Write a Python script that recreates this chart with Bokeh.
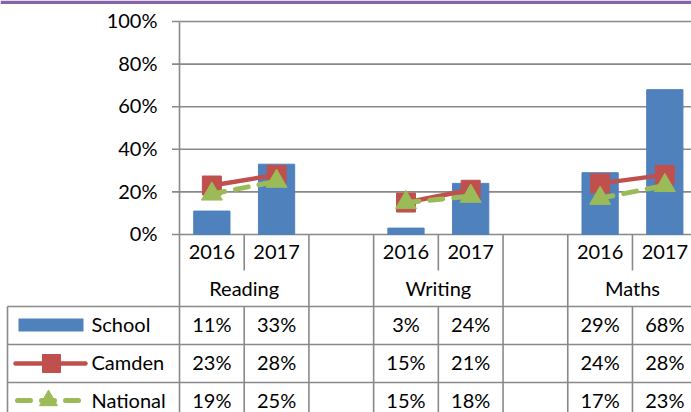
from bokeh.plotting import figure
from bokeh.models import Range1d
from bokeh.core.properties import value
from bokeh.embed import file_html
from bokeh.resources import INLINE
import math

# ---- data ----
subjects = ["Reading", "Writing", "Maths"]
years = ["2016", "2017"]
series_names = ["School", "Camden", "National"]
school = [11, 33, 3, 24, 29, 68]
camden = [23, 28, 15, 21, 24, 28]
national = [19, 25, 15, 18, 17, 23]
y_ticks = [0, 20, 40, 60, 80, 100]
y_tick_labels = ["0%", "20%", "40%", "60%", "80%", "100%"]

# ---- layout (pixels) ----
W, H = 691, 412
X0 = 179.0           # pixel of plot left edge
COLW = 64.71         # pixel width of one category column
Y0 = 234.0           # pixel of 0%
PXU = 2.13           # pixels per percent

def X(px):
    return (px - X0) / COLW

def Y(py):
    return (Y0 - py) / PXU

FONT = value("Lato")
FS = "20px"
GRID = "#898989"
BLUE, RED, GREEN = "#4F81BD", "#C0504D", "#9BBB59"

p = figure(width=W, height=H, output_backend="svg", toolbar_location=None,
           x_axis_type=None, y_axis_type=None, min_border=0,
           x_range=Range1d(X(0), X(W)), y_range=Range1d(Y(H), Y(0)))
p.outline_line_color = None
p.xgrid.visible = False
p.ygrid.visible = False
p.background_fill_color = "white"
p.border_fill_color = "white"

xmax = X(W + 20)

# top purple strip (cut-off title bar)
p.quad(left=X(0), right=X(W), bottom=Y(3.5), top=Y(0), fill_color="#8464A6", line_color=None)

# gridlines and y ticks
for t, lab in zip(y_ticks, y_tick_labels):
    if t > 0:
        p.segment(x0=0, y0=t, x1=xmax, y1=t, line_color=GRID, line_width=1.6)
    p.segment(x0=X(171.5), y0=t, x1=0, y1=t, line_color=GRID, line_width=1.6)
    p.text(x=[X(157)], y=[t + 0.6], text=[lab], text_font=FONT, text_font_size=FS,
           text_align="right", text_baseline="middle", text_color="black")

# axis line along 0 and y axis (continues into table)
p.segment(x0=0, y0=0, x1=xmax, y1=0, line_color=GRID, line_width=1.6)
p.segment(x0=0, y0=max(y_ticks), x1=0, y1=Y(H + 10), line_color=GRID, line_width=1.6)

# category table vertical lines
row_top = Y(306)
for g in range(len(subjects)):
    base = 3 * g
    p.segment(x0=base + 1, y0=0, x1=base + 1, y1=Y(270), line_color=GRID, line_width=1.6)
    p.segment(x0=base + 1, y0=row_top, x1=base + 1, y1=Y(H + 10), line_color=GRID, line_width=1.6)
    for b in (base + 2, base + 3):
        p.segment(x0=b, y0=0, x1=b, y1=Y(H + 10), line_color=GRID, line_width=1.6)

# horizontal data row lines
for py in (306, 344, 382):
    p.segment(x0=X(7), y0=Y(py), x1=xmax, y1=Y(py), line_color=GRID, line_width=1.6)
p.segment(x0=X(7), y0=Y(306), x1=X(7), y1=Y(H + 10), line_color=GRID, line_width=1.6)

# year and subject labels
yx, yt, sx = [], [], []
for g, s in enumerate(subjects):
    for j, yr in enumerate(years):
        yx.append(3 * g + j + 0.5)
        yt.append(yr)
    sx.append(3 * g + 1)
p.text(x=yx, y=[Y(251)] * len(yx), text=yt, text_font=FONT, text_font_size=FS,
       text_align="center", text_baseline="middle", text_color="black")
p.text(x=sx, y=[Y(287)] * len(sx), text=subjects, text_font=FONT, text_font_size=FS,
       text_align="center", text_baseline="middle", text_color="black")

# bars
bx = []
for g in range(len(subjects)):
    for j in range(len(years)):
        bx.append(3 * g + j + 0.5)
p.vbar(x=bx, top=school, bottom=0, width=0.56, fill_color=BLUE, line_color=BLUE)

def broken(vals):
    xs, ys = [], []
    for g in range(len(subjects)):
        for j in range(len(years)):
            xs.append(3 * g + j + 0.5)
            ys.append(vals[2 * g + j])
        xs.append(math.nan)
        ys.append(math.nan)
    return xs, ys

cx, cy = broken(camden)
p.line(cx, cy, line_color=RED, line_width=4.5)
p.scatter(bx, camden, marker="square", size=19, fill_color=RED, line_color=RED)

nx, ny = broken(national)
p.line(nx, ny, line_color=GREEN, line_width=5, line_dash="13 11", line_cap="round")
p.scatter(bx, national, marker="triangle", size=21, fill_color=GREEN, line_color=GREEN)

# data table values
row_centers = [Y(323.5), Y(361.5), Y(399.5)]
for vals, yc, name in zip([school, camden, national], row_centers, series_names):
    p.text(x=bx, y=[yc] * len(bx), text=[f"{v}%" for v in vals], text_font=FONT,
           text_font_size=FS, text_align="center", text_baseline="middle", text_color="black")
    p.text(x=[X(91)], y=[yc], text=[name], text_font=FONT, text_font_size=FS,
           text_align="left", text_baseline="middle", text_color="black")

# legend keys
p.quad(left=X(18), right=X(83), bottom=Y(331), top=Y(318), fill_color=BLUE, line_color=None)
p.segment(x0=X(15), y0=Y(363), x1=X(85), y1=Y(363), line_color=RED, line_width=4.5, line_cap="round")
p.scatter([X(51)], [Y(363)], marker="square", size=18, fill_color=RED, line_color=RED)
p.segment(x0=X(17), y0=Y(400), x1=X(80), y1=Y(400), line_color=GREEN, line_width=5,
          line_dash="13 11", line_cap="round")
p.scatter([X(48)], [Y(400)], marker="triangle", size=18, fill_color=GREEN, line_color=GREEN)

open("out.html", "w").write(file_html(p, INLINE))
